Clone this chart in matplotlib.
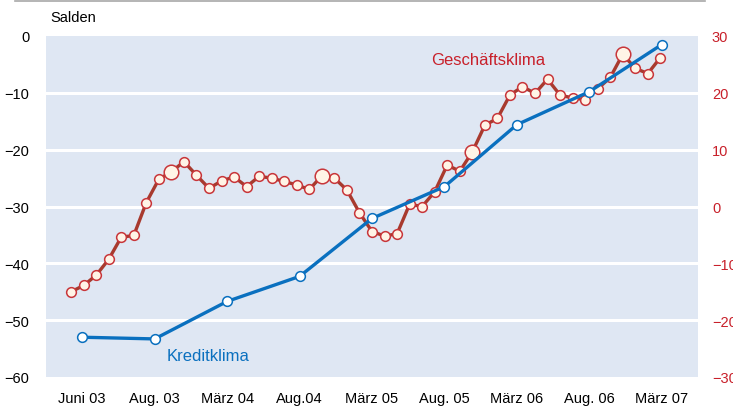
import matplotlib

matplotlib.use("Agg")
import matplotlib.pyplot as plt
from matplotlib.lines import Line2D

plt.rcParams["font.family"] = ["Liberation Sans", "DejaVu Sans"]

# Kreditklima (linke Achse), Umfragerunden
kredit_labels = ["Juni 03", "Aug. 03", "März 04", "Aug.04", "März 05",
                 "Aug. 05", "März 06", "Aug. 06", "März 07"]
kredit_values = [-53.0, -53.3, -46.7, -42.3, -32.1, -26.5, -15.6, -9.8, -1.5]

# Geschäftsklima (rechte Achse), monatlich
geschaeft_values = [
    -15.0, -13.9, -12.1, -9.3, -5.4, -5.1, 0.7, 4.8, 6.1, 7.9, 5.5, 3.2,
    4.5, 5.2, 3.5, 5.3, 5.0, 4.4, 3.8, 3.0, 5.4, 5.0, 2.9, -1.1,
    -4.4, -5.2, -4.8, 0.4, 0.0, 2.6, 7.3, 6.2, 9.6, 14.3, 15.5, 19.6,
    21.1, 19.9, 22.4, 19.6, 19.1, 18.8, 20.7, 22.7, 26.8, 24.3, 23.4, 26.2,
]
# hervorgehobene Monate (große Marker)
highlight = [8, 20, 32, 44]

BG = "#dfe7f3"
BLUE = "#0a70bf"
RED_LINE = "#a83a2e"
RED_EDGE = "#c8363a"
RED_FACE = "#fff4e6"
RED_TEXT = "#c8202a"

fig = plt.figure(figsize=(7.33, 4.10), dpi=100)
rect = [46 / 733, 32 / 410, 652 / 733, 341 / 410]

# Hintergrund-Achse mit Geschäftsklima
ax_r = fig.add_axes(rect, zorder=1)
ax_r.set_facecolor(BG)
ax_r.set_xlim(-2, 50)
ax_r.set_ylim(-30, 30)
ax_r.set_yticks(range(-30, 31, 10))
ax_r.yaxis.tick_right()
ax_r.tick_params(axis="y", length=0, pad=10, labelsize=10.5, labelcolor=RED_TEXT)
ax_r.set_xticks([])
for y in range(-20, 21, 10):
    ax_r.axhline(y, color="white", lw=2.2, zorder=0)
for s in ax_r.spines.values():
    s.set_visible(False)

xr = list(range(len(geschaeft_values)))
ax_r.plot(xr, geschaeft_values, color=RED_LINE, lw=2.4, zorder=2,
          marker="o", ms=7, mfc=RED_FACE, mec=RED_EDGE, mew=1.1)
ax_r.plot([xr[i] for i in highlight], [geschaeft_values[i] for i in highlight],
          ls="none", marker="o", ms=10.5, mfc=RED_FACE, mec=RED_EDGE, mew=1.1, zorder=3)

# Vordergrund-Achse mit Kreditklima
ax = fig.add_axes(rect, zorder=2)
ax.patch.set_visible(False)
ax.set_xlim(-0.5, 8.5)
ax.set_ylim(-60, 0)
ax.set_yticks(range(-60, 1, 10))
ax.set_xticks(range(len(kredit_labels)))
ax.set_xticklabels(kredit_labels)
ax.tick_params(axis="both", length=0, labelsize=10.5)
ax.tick_params(axis="y", pad=12)
ax.tick_params(axis="x", pad=10)
for s in ax.spines.values():
    s.set_visible(False)

ax.plot(range(len(kredit_values)), kredit_values, color=BLUE, lw=2.4,
        marker="o", ms=7, mfc="white", mec=BLUE, mew=1.1, zorder=3)

ax.text(1.74, -56.2, "Kreditklima", color=BLUE, fontsize=12, ha="center", va="center")
ax.text(5.61, -4.2, "Geschäftsklima", color=RED_TEXT, fontsize=12, ha="center", va="center")

fig.text(50 / 733, 1 - 18 / 410, "Salden", fontsize=10.5, ha="left", va="center")
fig.add_artist(Line2D([15 / 733, 705 / 733], [1 - 1.5 / 410, 1 - 1.5 / 410],
                      color="#a8a8a8", lw=1.2, transform=fig.transFigure))

fig.savefig("out.png", dpi=100)
